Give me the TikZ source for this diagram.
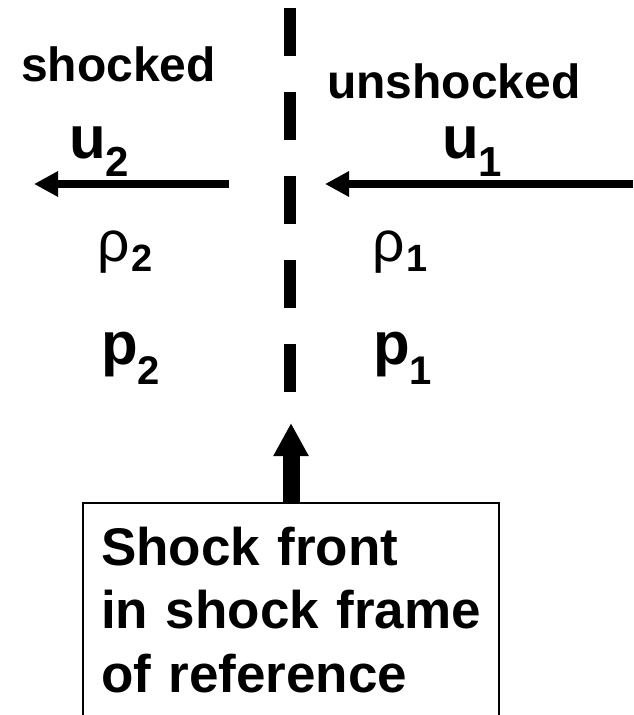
\documentclass[tikz,border=0pt]{standalone}
\usepackage{fontspec}
\setmainfont{Liberation Sans}
\usetikzlibrary{arrows.meta}
\newcommand{\fsz}[1]{\fontsize{#1}{#1}\selectfont}

\begin{document}
\begin{tikzpicture}[x=1pt,y=-1pt,
  lbl/.style={anchor=base west,inner sep=0pt,font=\bfseries},
  flowarrow/.style={line width=8pt,-{Triangle[length=24pt,width=24pt]}}]
\clip (0,0) rectangle (633,715);
% shock front
\coordinate (ftop) at (290,8);
\coordinate (fbot) at (290,392);
\draw[line width=12pt,dash pattern=on 48pt off 36pt] (ftop)--(fbot);
% flow on both sides
\coordinate (ltail) at (229,184);
\coordinate (lhead) at (34,184);
\coordinate (rtail) at (633,184);
\coordinate (rhead) at (325,184);
\draw[flowarrow] (ltail)--(lhead);
\draw[flowarrow] (rtail)--(rhead);
\node[lbl] (shk) at (21,81) {\fsz{48}shocked};
\node[lbl] (unshk) at (327,98) {\fsz{48}unshocked};
\node[lbl] (utwo) at (69,158) {\fsz{60}u\raisebox{-18pt}{\fsz{42}2}};
\node[lbl] (uone) at (442,158) {\fsz{60}u\raisebox{-18pt}{\fsz{42}1}};
\node[lbl] (rhotwo) at (97,261) {{\fsz{57}\mdseries ρ}\kern2pt\raisebox{-10pt}{\fsz{38}2}};
\node[lbl] (rhoone) at (372,261) {{\fsz{57}\mdseries ρ}\kern2pt\raisebox{-10pt}{\fsz{38}1}};
\node[lbl] (ptwo) at (101,364) {\fsz{60}p\raisebox{-20pt}{\fsz{40}2}};
\node[lbl] (pone) at (373,364) {\fsz{60}p\raisebox{-20pt}{\fsz{40}1}};
% label box
\node[draw,line width=2pt,anchor=north west,outer sep=0pt,inner xsep=18pt,inner ysep=24pt,
  text width=380pt,align=left,font={\bfseries\fontsize{53}{63.3}\selectfont}]
  (frame) at (83,503) {Shock front\\in shock frame\\of reference\\ \mbox{}};
\coordinate (shocktip) at (291,423);
\draw[line width=17pt,-{Triangle[length=33pt,width=33pt]}] (frame.north)--(shocktip);
\end{tikzpicture}
\end{document}
